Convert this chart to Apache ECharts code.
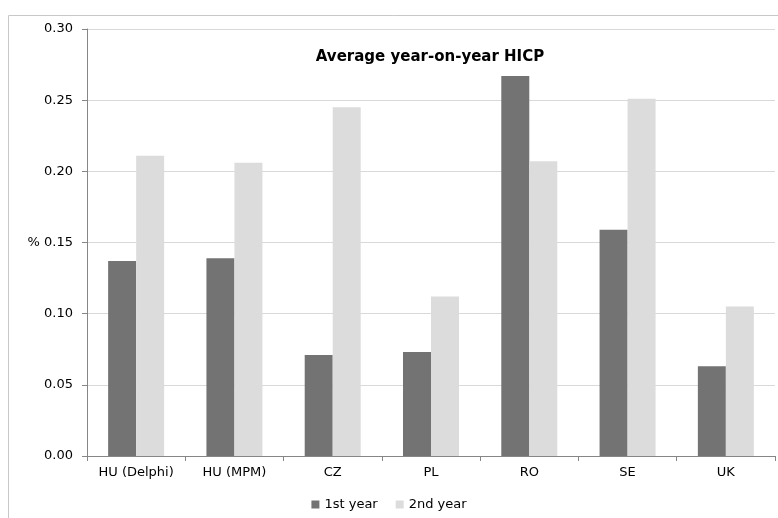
<!DOCTYPE html>
<html>
<head>
<meta charset="utf-8">
<script src="https://cdn.jsdelivr.net/npm/echarts@6/dist/echarts.min.js"></script>
<style>html,body{margin:0;padding:0;background:#fff}#main{width:778px;height:518px}</style>
</head>
<body>
<div id="main"></div>
<script>
const categories = ['HU (Delphi)', 'HU (MPM)', 'CZ', 'PL', 'RO', 'SE', 'UK'];
const firstYear = [0.137, 0.139, 0.071, 0.073, 0.267, 0.159, 0.063];
const secondYear = [0.211, 0.206, 0.245, 0.112, 0.207, 0.251, 0.105];

const chart = echarts.init(document.getElementById('main'));
const font = 'DejaVu Sans';
chart.setOption({
  animation: false,
  textStyle: { fontFamily: font },
  graphic: [{
    type: 'rect', shape: { x: 8.5, y: 15.5, width: 775, height: 510 },
    style: { fill: 'none', stroke: '#c8c8c8', lineWidth: 1 }
  }],
  title: {
    text: 'Average year-on-year HICP', left: 425, top: 45, textAlign: 'center',
    textStyle: { fontSize: 15, fontWeight: 'bold', color: '#000', fontFamily: font }
  },
  legend: {
    bottom: 2, left: 'center', itemWidth: 8, itemHeight: 8, itemGap: 18, icon: 'rect',
    textStyle: { fontSize: 13, color: '#000', fontFamily: font },
    data: ['1st year', '2nd year']
  },
  grid: { left: 87, right: 3, top: 29, bottom: 62 },
  xAxis: {
    type: 'category', data: categories,
    axisLine: { lineStyle: { color: '#868686' } },
    axisTick: { show: true, lineStyle: { color: '#868686' }, length: 5 },
    axisLabel: { color: '#000', fontSize: 13, margin: 10 }
  },
  yAxis: {
    type: 'value', min: 0, max: 0.3, interval: 0.05,
    axisLine: { show: true, lineStyle: { color: '#868686' } },
    axisTick: { show: true, length: 5, lineStyle: { color: '#868686' } },
    splitLine: { lineStyle: { color: '#d9d9d9' } },
    axisLabel: {
      color: '#000', fontSize: 13, margin: 14,
      formatter: v => (Math.abs(v - 0.15) < 1e-9 ? '% ' : '') + v.toFixed(2)
    }
  },
  series: [
    { name: '1st year', type: 'bar', data: firstYear, barWidth: 28, barGap: '0%',
      itemStyle: { color: '#737373' } },
    { name: '2nd year', type: 'bar', data: secondYear, barWidth: 28,
      itemStyle: { color: '#dcdcdc' } }
  ]
});
</script>
</body>
</html>
